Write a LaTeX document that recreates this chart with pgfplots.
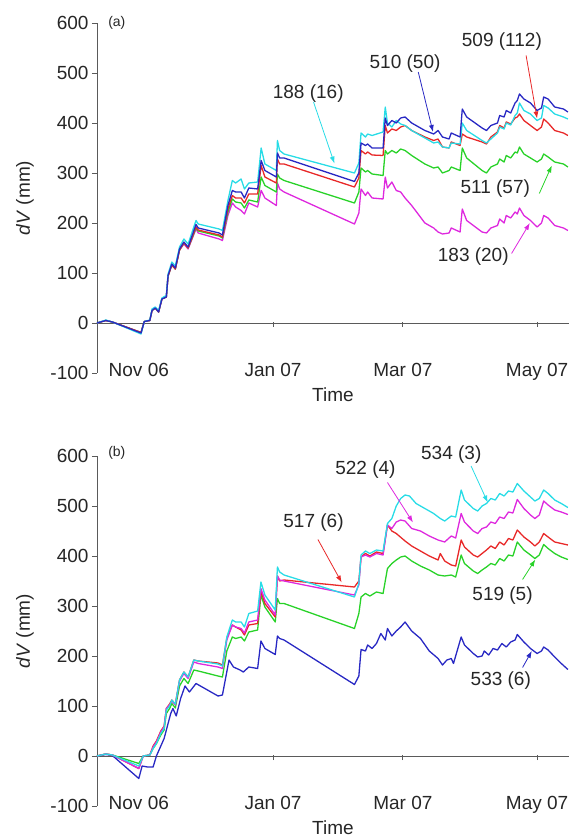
\documentclass[border=0pt]{standalone}
\usepackage{fontspec}
\setmainfont{Liberation Sans}
\usepackage{pgfplots}
\pgfplotsset{compat=1.18}
\usetikzlibrary{arrows.meta}

\definecolor{cblue}{RGB}{40,40,195}
\definecolor{cred}{RGB}{232,40,40}
\definecolor{ccyan}{RGB}{40,220,230}
\definecolor{cgreen}{RGB}{40,210,40}
\definecolor{cmag}{RGB}{222,40,222}
\definecolor{axgray}{RGB}{90,90,90}

\tikzset{
  lab/.style={font=\fontsize{19bp}{22bp}\selectfont, text=black!85},
  arr/.style={-{Latex[length=7bp,width=5bp]}, line width=0.8pt},
}

% days counted from 1 Nov 2006
\pgfplotsset{
  panel/.style={
    scale only axis, width=472bp, height=350bp,
    xmin=-19, xmax=195.5, ymin=-100, ymax=600,
    clip=false,
    axis y line*=left, axis x line*=bottom,
    x axis line style={draw=none},
    y axis line style={axgray},
    xtick={0,61,120,181},
    xticklabels={Nov 06,Jan 07,Mar 07,May 07},
    xtick style={draw=none},
    xticklabel style={anchor=base, yshift=1.5bp},
    ytick={-100,0,...,600},
    ytick style={axgray},
    tick align=outside, major tick length=5bp,
    /pgf/number format/assume math mode=true,
    tick label style={font=\fontsize{19bp}{22bp}\selectfont, text=black!85},
    label style={font=\fontsize{19bp}{22bp}\selectfont, text=black!85},
    ylabel={\textit{dV} (mm)},
    ylabel style={at={(axis description cs:-0.1525,0.5)}, anchor=center},
    xlabel={Time},
    xlabel style={at={(axis description cs:0.5,-0.063)}, anchor=center},
    every axis plot/.append style={line width=1.3pt, line join=round},
  },
}

\begin{document}
\begin{tikzpicture}
\path[use as bounding box] (0,0) rectangle (573bp,838bp);

% ---------------- panel (a)
\begin{axis}[panel, at={(97bp,465bp)}, anchor=south west]
\addplot[axgray, line width=0.8pt, forget plot] coordinates {(-19,0) (195.5,0)};
\pgfplotsinvokeforeach{61,120,181}{\addplot[axgray, line width=0.8pt, forget plot] coordinates {(#1,-8) (#1,2)};}
% 183 (20)
\addplot[cmag] coordinates {(-19,0) (-15,5) (-12,2) (1,-19) (2.5,3) (5,5) (6,25) (7.5,30) (9,22) (10.5,48) (12.5,52) (13.3,94) (15,116) (16.6,108) (18.5,146) (20.5,158) (22.4,148) (26,188) (27,180) (36.5,168) (38,165) (40.5,215) (42.5,240) (44,232) (46.5,225) (48,218) (50,240) (54,232) (55.6,265) (57.3,250) (62.5,235) (63,280) (64,268) (66,262) (98,198) (100,220) (101,268) (103,255) (104,262) (106,250) (111,248) (112,292) (113,270) (115,282) (117,265) (119,262) (121,250) (124,235) (130,200) (134,190) (136,182) (138,178) (141,180) (142,190) (146,182) (147,228) (149,205) (156,182) (158,180) (160,190) (163,195) (164,208) (166,200) (167,215) (169,210) (171,222) (172,218) (173,230) (175,215) (178,205) (181,192) (183,200) (184,215) (186,210) (189,195) (193,190) (195,185)};
% 511 (57)
\addplot[cgreen] coordinates {(-19,0) (-15,5) (-12,2) (1,-19) (2.5,3) (5,5) (6,25) (7.5,30) (9,22) (10.5,48) (12.5,52) (13.3,94) (15,116) (16.6,108) (18.5,146) (20.5,160) (22.4,150) (26,190) (27,184) (36.5,174) (38,170) (40.5,222) (42.5,248) (44,242) (46.5,240) (48,230) (50,246) (54,242) (55.6,292) (57.3,275) (62.5,262) (63,298) (64,290) (66,285) (98,240) (100,262) (101,310) (103,302) (104,305) (106,298) (111,295) (112,345) (113,338) (115,345) (117,340) (119,348) (121,345) (124,335) (130,318) (134,310) (136,312) (138,300) (141,305) (142,312) (146,305) (147,350) (149,330) (156,305) (158,300) (160,312) (163,318) (164,328) (166,322) (167,335) (169,330) (171,342) (172,340) (173,352) (175,338) (178,330) (181,322) (183,328) (184,338) (186,332) (189,322) (193,318) (195,312)};
% 509 (112)
\addplot[cred] coordinates {(-19,0) (-15,5) (-12,2) (1,-19) (2.5,3) (5,5) (6,25) (7.5,30) (9,22) (10.5,48) (12.5,52) (13.3,94) (15,116) (16.6,108) (18.5,146) (20.5,160) (22.4,150) (26,192) (27,186) (36.5,176) (38,172) (40.5,228) (42.5,255) (44,250) (46.5,250) (48,240) (50,258) (54,258) (55.6,315) (57.3,292) (62.5,280) (63,328) (64,318) (66,318) (98,272) (100,290) (101,345) (103,338) (104,342) (106,336) (111,335) (112,395) (113,380) (115,388) (117,385) (119,392) (121,395) (124,385) (130,372) (134,365) (136,368) (138,352) (141,350) (142,362) (146,355) (147,378) (149,372) (156,362) (158,358) (160,372) (163,382) (164,395) (166,390) (167,402) (169,398) (171,410) (172,412) (173,418) (175,405) (178,395) (181,385) (183,392) (184,408) (186,400) (189,385) (193,380) (195,375)};
% 188 (16)
\addplot[ccyan] coordinates {(-19,0) (-15,6) (-12,2) (1,-22) (2.5,3) (5,6) (6,28) (7.5,32) (9,25) (10.5,50) (12.5,55) (13.3,98) (15,122) (16.6,114) (18.5,152) (20.5,168) (22.4,158) (26,205) (27,198) (36.5,188) (38,185) (40.5,245) (42.5,285) (44,280) (46.5,288) (48,268) (50,280) (54,282) (55.6,350) (57.3,318) (62.5,305) (63,365) (64,345) (66,338) (98,300) (100,320) (101,380) (103,372) (104,378) (106,375) (111,382) (112,432) (113,400) (115,392) (117,405) (119,398) (121,395) (124,385) (130,370) (134,360) (136,362) (138,352) (141,350) (142,360) (146,358) (147,400) (149,385) (156,365) (158,360) (160,368) (163,380) (164,392) (166,388) (167,400) (169,396) (171,415) (172,420) (173,440) (175,425) (178,418) (181,405) (183,410) (184,435) (186,430) (189,418) (193,412) (195,408)};
% 510 (50)
\addplot[cblue] coordinates {(-19,0) (-15,5) (-12,2) (1,-20) (2.5,3) (5,5) (6,25) (7.5,30) (9,22) (10.5,48) (12.5,52) (13.3,95) (15,118) (16.6,110) (18.5,148) (20.5,162) (22.4,152) (26,197) (27,190) (36.5,180) (38,176) (40.5,235) (42.5,265) (44,262) (46.5,262) (48,250) (50,270) (54,268) (55.6,325) (57.3,305) (62.5,292) (63,340) (64,330) (66,330) (98,283) (100,300) (101,360) (103,355) (104,358) (106,350) (111,350) (112,410) (113,395) (115,405) (117,400) (119,410) (121,412) (124,400) (130,385) (134,378) (136,385) (138,372) (141,368) (142,380) (146,372) (147,428) (149,412) (156,390) (158,385) (160,395) (163,400) (164,415) (166,412) (167,425) (169,420) (171,440) (172,445) (173,458) (175,448) (178,440) (181,425) (183,430) (184,452) (186,448) (189,432) (193,428) (195,422)};
\node[font=\fontsize{14bp}{16bp}\selectfont, text=black!85] at (axis description cs:0.042,1) {(a)};
\node[lab] at (axis cs:77,459) {188 (16)};
\draw[arr, ccyan] (axis cs:79.4,442) -- (axis cs:88.9,319);
\node[lab] at (axis cs:121,519) {510 (50)};
\draw[arr, cblue] (axis cs:127,502) -- (axis cs:133.7,382);
\node[lab] at (axis cs:165,562) {509 (112)};
\draw[arr, cred] (axis cs:176,535) -- (axis cs:181,409);
\node[lab] at (axis cs:162,269) {511 (57)};
\draw[arr, cgreen] (axis cs:182,259) -- (axis cs:187.7,315);
\node[lab] at (axis cs:152,132) {183 (20)};
\draw[arr, cmag] (axis cs:169.4,139) -- (axis cs:177.7,200);
\end{axis}

% ---------------- panel (b)
\begin{axis}[panel, at={(97bp,32bp)}, anchor=south west]
\addplot[axgray, line width=0.8pt, forget plot] coordinates {(-19,0) (195.5,0)};
\pgfplotsinvokeforeach{61,120,181}{\addplot[axgray, line width=0.8pt, forget plot] coordinates {(#1,-8) (#1,2)};}
% 533 (6)
\addplot[cblue] coordinates {(-19,0) (-15,3) (-12,1) (0,-45) (1.5,-20) (4,-22) (6.5,-22) (8,0) (10,20) (11.5,35) (13,60) (14.5,85) (15.5,95) (17,80) (19,115) (21,140) (23,128) (26,145) (28,140) (36,120) (38,122) (41,192) (43,178) (46,172) (47.5,168) (50,178) (54,175) (55.5,230) (57.3,215) (62,203) (63,240) (64,235) (66,232) (98,143) (100,160) (101,213) (103,210) (104,222) (106,215) (108,225) (110,245) (112,232) (113,255) (115,240) (117,250) (119,258) (121,268) (124,250) (128,235) (132,210) (136,195) (138,182) (140,192) (142,195) (143,185) (146.5,238) (148,222) (152,205) (154,198) (156,200) (157,210) (159,202) (161,215) (163,212) (165,225) (167,218) (169,228) (171,232) (172,243) (175,228) (178,215) (181,205) (183,210) (184,218) (186,212) (189,198) (192,185) (195,173)};
% 519 (5)
\addplot[cgreen] coordinates {(-19,0) (-15,4) (-12,2) (0,-15) (2,0) (5,2) (6.5,15) (8,25) (10,42) (11.5,52) (12.5,85) (14,95) (15,105) (16.6,96) (18.5,140) (20.5,155) (22.4,145) (25,172) (27,170) (36,160) (38,158) (40,210) (42.5,238) (44,235) (46.5,238) (48,230) (50,248) (54,252) (55.5,322) (57.3,298) (62,268) (63,315) (64,305) (66,305) (98,255) (100,285) (101,318) (103,325) (105,320) (108,328) (111,325) (113,375) (115,385) (117,392) (119,398) (121,400) (124,390) (128,380) (132,372) (136,362) (139,360) (142,362) (144,358) (146.5,402) (148,385) (152,370) (154,365) (156,372) (158,378) (160,385) (162,382) (164,395) (166,390) (168,402) (170,400) (172,428) (175,412) (178,402) (180,395) (182,402) (184,423) (186,415) (189,405) (192,398) (195,393)};
% 517 (6)
\addplot[cred] coordinates {(-19,0) (-15,4) (-12,2) (0,-25) (2,0) (5,2) (6.5,20) (8,30) (10,50) (11.5,60) (12.5,95) (14,104) (15,112) (16.6,104) (18.5,152) (20.5,168) (22.4,158) (25,192) (27,190) (36,186) (38,182) (40,236) (42.5,262) (44,258) (46.5,252) (48,242) (50,262) (54,265) (55.5,330) (57.3,305) (62,278) (63,360) (64,350) (66,352) (98,338) (100,350) (101,398) (103,405) (105,400) (108,408) (111,405) (113,462) (115,450) (117,445) (121,430) (124,420) (128,410) (132,400) (136,392) (137,405) (139,390) (142,382) (144,380) (146.5,432) (148,418) (152,402) (154,398) (156,405) (158,412) (160,420) (162,415) (164,428) (166,422) (168,435) (170,432) (172,452) (175,438) (178,428) (180,420) (182,428) (184,445) (186,438) (189,428) (192,425) (195,422)};
% 522 (4)
\addplot[cmag] coordinates {(-19,0) (-15,4) (-12,2) (0,-25) (2,0) (5,2) (6.5,18) (8,28) (10,48) (11.5,58) (12.5,95) (14,102) (15,110) (16.6,102) (18.5,150) (20.5,165) (22.4,155) (25,188) (27,185) (36,178) (38,175) (40,232) (42.5,262) (44,258) (46.5,255) (48,246) (50,268) (54,272) (55.5,335) (57.3,312) (62,282) (63,360) (64,352) (66,350) (98,322) (100,342) (101,398) (103,402) (105,398) (108,405) (111,402) (113,462) (115,455) (117,468) (119,472) (121,470) (124,455) (128,450) (132,440) (136,432) (139,428) (142,440) (144,436) (146.5,485) (148,468) (152,450) (154,445) (156,455) (158,458) (160,468) (162,465) (164,478) (166,475) (168,488) (170,486) (172,513) (175,495) (178,482) (180,475) (182,482) (184,510) (186,502) (189,492) (192,488) (195,483)};
% 534 (3)
\addplot[ccyan] coordinates {(-19,0) (-15,4) (-12,2) (0,-20) (2,0) (5,2) (6.5,15) (8,25) (10,45) (11.5,55) (12.5,92) (14,100) (15,112) (16.6,104) (18.5,152) (20.5,168) (22.4,158) (25,192) (27,190) (36,184) (38,180) (40,238) (42.5,272) (44,268) (46.5,268) (48,258) (50,285) (54,290) (55.5,348) (57.3,322) (62,292) (63,378) (64,368) (66,362) (98,318) (100,345) (101,402) (103,410) (105,405) (108,412) (111,410) (113,465) (115,475) (117,500) (119,515) (121,522) (123,520) (126,505) (130,495) (134,485) (137,475) (139,470) (142,480) (144,478) (146.5,532) (148,512) (152,495) (154,490) (156,500) (158,505) (160,515) (162,512) (164,525) (166,520) (168,530) (170,528) (172,545) (175,530) (178,518) (180,510) (182,515) (184,532) (186,525) (189,512) (192,505) (195,497)};
\node[font=\fontsize{14bp}{16bp}\selectfont, text=black!85] at (axis description cs:0.042,1.01) {(b)};
\node[lab] at (axis cs:79.4,467) {517 (6)};
\draw[arr, cred] (axis cs:81.4,433) -- (axis cs:92.2,347);
\node[lab] at (axis cs:103,573) {522 (4)};
\draw[arr, cmag] (axis cs:113,547) -- (axis cs:124.6,467);
\node[lab] at (axis cs:142,603) {534 (3)};
\draw[arr, ccyan] (axis cs:151,580) -- (axis cs:158.6,507);
\node[lab] at (axis cs:165.3,320) {519 (5)};
\draw[arr, cgreen] (axis cs:174.4,353) -- (axis cs:180.2,393);
\node[lab] at (axis cs:164.5,150) {533 (6)};
\draw[arr, cblue] (axis cs:174.4,177) -- (axis cs:178.6,210);
\end{axis}
\end{tikzpicture}
\end{document}
